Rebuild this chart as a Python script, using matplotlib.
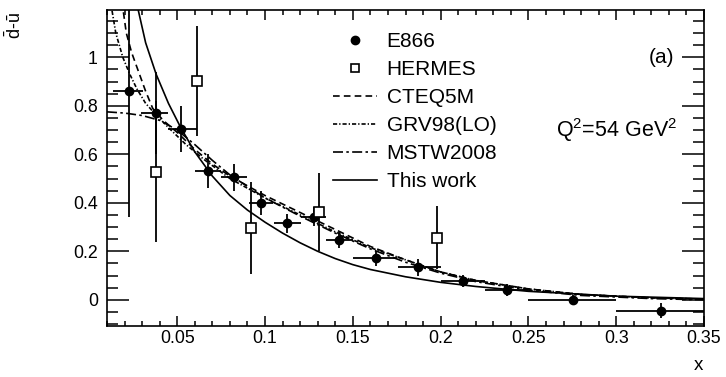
import matplotlib
matplotlib.use("Agg")
import matplotlib.pyplot as plt
from matplotlib.lines import Line2D
from matplotlib.ticker import MultipleLocator, FuncFormatter

plt.rcParams['font.family'] = ['Liberation Sans', 'DejaVu Sans']
plt.rcParams['mathtext.fontset'] = 'custom'
plt.rcParams['mathtext.rm'] = 'Liberation Sans'
plt.rcParams['mathtext.it'] = 'Liberation Sans:italic'

# E866 data points (d-bar minus u-bar)
e866_x = [0.0227, 0.0377, 0.0523, 0.0676, 0.0826, 0.0975, 0.1125, 0.128,
          0.1422, 0.163, 0.187, 0.2127, 0.2379, 0.2754, 0.3254]
e866_y = [0.86, 0.77, 0.705, 0.53, 0.505, 0.398, 0.315, 0.343,
          0.247, 0.171, 0.135, 0.076, 0.042, 0.0, -0.045]
e866_ey = [0.52, 0.17, 0.095, 0.07, 0.056, 0.05, 0.04, 0.04,
           0.032, 0.03, 0.035, 0.025, 0.025, 0.02, 0.03]
e866_xlo = [0.0136, 0.0295, 0.045, 0.06, 0.075, 0.091, 0.105, 0.1205,
            0.135, 0.15, 0.176, 0.2, 0.225, 0.25, 0.3]
e866_xhi = [0.0305, 0.0447, 0.061, 0.075, 0.09, 0.1044, 0.1205, 0.135,
            0.15, 0.1754, 0.2, 0.225, 0.25, 0.3, 0.35]

# HERMES data points
hermes_x = [0.038, 0.0615, 0.092, 0.131, 0.1977]
hermes_y = [0.528, 0.902, 0.297, 0.362, 0.255]
hermes_ey = [0.29, 0.227, 0.19, 0.16, 0.13]

# theory curves
cteq_x = [0.0185, 0.021, 0.024, 0.028, 0.032, 0.036, 0.042, 0.05, 0.06, 0.07, 0.08,
          0.1, 0.12, 0.14, 0.16, 0.18, 0.2, 0.22, 0.25, 0.28, 0.32, 0.35]
cteq_y = [1.23, 1.1, 1.02, 0.94, 0.86, 0.79, 0.74, 0.69, 0.62, 0.56, 0.51,
          0.43, 0.36, 0.29, 0.22, 0.165, 0.115, 0.08, 0.045, 0.022, 0.008, 0.003]

grv_x = [0.012, 0.015, 0.019, 0.023, 0.027, 0.032, 0.037, 0.045, 0.055, 0.065, 0.08,
         0.1, 0.12, 0.14, 0.16, 0.18, 0.2, 0.22, 0.25, 0.28, 0.32, 0.35]
grv_y = [1.23, 1.1, 1.0, 0.93, 0.87, 0.81, 0.77, 0.71, 0.64, 0.58, 0.5,
         0.42, 0.35, 0.28, 0.215, 0.165, 0.115, 0.08, 0.045, 0.022, 0.008, 0.003]

mstw_x = [0.01, 0.02, 0.03, 0.04, 0.05, 0.06, 0.07, 0.08, 0.1, 0.12, 0.14,
          0.16, 0.18, 0.2, 0.22, 0.25, 0.28, 0.32, 0.35]
mstw_y = [0.775, 0.77, 0.76, 0.74, 0.7, 0.64, 0.575, 0.515, 0.42, 0.345, 0.275,
          0.21, 0.155, 0.11, 0.075, 0.04, 0.018, 0.005, 0.0]

work_x = [0.027, 0.032, 0.038, 0.045, 0.052, 0.06, 0.07, 0.08, 0.09, 0.1, 0.11,
          0.12, 0.13, 0.14, 0.15, 0.16, 0.18, 0.2, 0.22, 0.25, 0.3, 0.35]
work_y = [1.22, 1.06, 0.93, 0.81, 0.71, 0.61, 0.51, 0.43, 0.37, 0.32, 0.275,
          0.235, 0.2, 0.17, 0.145, 0.125, 0.095, 0.072, 0.055, 0.035, 0.015, 0.005]

fig = plt.figure(figsize=(7.26, 3.77), dpi=100)
ax = fig.add_axes([107 / 726, 1 - 326 / 377, 597 / 726, 316 / 377])

lw = 1.2
ax.plot(cteq_x, cteq_y, color='black', lw=lw, linestyle=(0, (4, 2.5)))
ax.plot(grv_x, grv_y, color='black', lw=lw, linestyle=(0, (2.5, 1.2, 0.8, 1.2)))
ax.plot(mstw_x, mstw_y, color='black', lw=lw, linestyle=(0, (6, 2, 1.5, 2)))
ax.plot(work_x, work_y, color='black', lw=lw, linestyle='-')

# E866 with asymmetric x bins
xerr = [[x - lo for x, lo in zip(e866_x, e866_xlo)],
        [hi - x for x, hi in zip(e866_x, e866_xhi)]]
ax.errorbar(e866_x, e866_y, xerr=xerr, yerr=e866_ey, fmt='o', color='black',
            ms=6, elinewidth=1.3, capsize=0)
ax.errorbar(hermes_x, hermes_y, yerr=hermes_ey, fmt='s', color='black',
            mfc='white', mec='black', mew=1.2, ms=7, elinewidth=1.3, capsize=0)

ax.set_xlim(0.01, 0.35)
ax.set_ylim(-0.108, 1.195)
ax.set_xticks([0.05, 0.1, 0.15, 0.2, 0.25, 0.3, 0.35])
ax.set_yticks([0, 0.2, 0.4, 0.6, 0.8, 1.0])
ax.xaxis.set_minor_locator(MultipleLocator(0.01))
ax.yaxis.set_minor_locator(MultipleLocator(0.05))
fmt = FuncFormatter(lambda v, p: f"{v:g}")
ax.xaxis.set_major_formatter(fmt)
ax.yaxis.set_major_formatter(fmt)

ax.tick_params(axis='both', which='both', direction='in', top=True, right=True,
               labelsize=12.8, width=1.1, colors='black')
ax.tick_params(axis='y', which='major', length=15.5, pad=6.5)
ax.tick_params(axis='y', which='minor', length=8)
ax.tick_params(axis='x', which='major', length=7, pad=3)
ax.tick_params(axis='x', which='minor', length=3.5)
for s in ax.spines.values():
    s.set_linewidth(1.2)

# axis titles in the ROOT style corners
fig.text(15 / 726, 1 - 12 / 377, r'$\bar{\mathrm{d}}$-$\bar{\mathrm{u}}$', rotation=90,
         ha='center', va='top', fontsize=13)
fig.text(698 / 726, 1 - 366 / 377, 'x', ha='center', va='center', fontsize=13.5)

ax.text(0.951, 0.85, '(a)', transform=ax.transAxes, ha='right', va='center', fontsize=15)
ax.text(0.955, 0.62, r'Q$^2$=54 GeV$^2$', transform=ax.transAxes, ha='right',
        va='center', fontsize=15.5)

handles = [
    Line2D([], [], color='black', marker='o', ms=6, linestyle='none'),
    Line2D([], [], color='black', marker='s', mfc='white', mew=1.2, ms=6, linestyle='none'),
    Line2D([], [], color='black', lw=lw, linestyle=(0, (4, 2.5))),
    Line2D([], [], color='black', lw=lw, linestyle=(0, (2.5, 1.2, 0.8, 1.2))),
    Line2D([], [], color='black', lw=lw, linestyle=(0, (6, 2, 1.5, 2))),
    Line2D([], [], color='black', lw=lw, linestyle='-'),
]
labels = ['E866', 'HERMES', 'CTEQ5M', 'GRV98(LO)', 'MSTW2008', 'This work']
fig.legend(handles, labels, loc='upper left', bbox_to_anchor=(333 / 726, 1 - 32 / 377),
           frameon=False, fontsize=15, handlelength=2.1, handletextpad=0.48,
           labelspacing=0.43, borderpad=0, borderaxespad=0)

fig.savefig('out.png', dpi=100)
